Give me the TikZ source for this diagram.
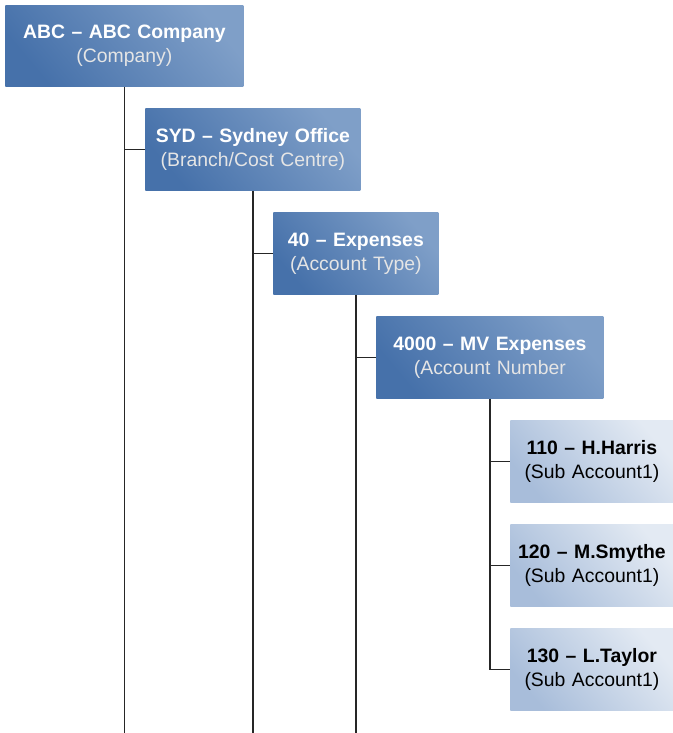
\documentclass[tikz,border=0pt]{standalone}
\usepackage{fontspec}
\setsansfont{Liberation Sans}
\usepackage{xcolor}
\usepackage{tikz}
\usetikzlibrary{positioning}
\definecolor{darkblue}{HTML}{4671AA}
\definecolor{midblue}{HTML}{7F9FC8}
\definecolor{paleblue}{HTML}{A8BDDA}
\definecolor{iceblue}{HTML}{E3EAF3}
\tikzstyle{tree} = [line width=0.75pt, black!85]

\begin{document}
\begin{tikzpicture}[
    x=0.5pt, y=-0.5pt,
    levelbox/.style={rectangle, anchor=north west, inner sep=0pt, text centered, font=\sffamily\fontsize{9.7}{12}\selectfont},
    darkbox/.style={levelbox, top color=midblue, middle color=darkblue!85!midblue, bottom color=darkblue, shading angle=-50, text=white},
    lightbox/.style={levelbox, top color=iceblue, middle color=paleblue!65!iceblue, bottom color=paleblue, shading angle=-50, text=black, text width=81.5pt, minimum height=41pt}
]
    \useasboundingbox (0,0) rectangle (673,733);
    \coordinate (bottom) at (0,733);

    % Levels of the account code
    \node[darkbox, text width=119pt, minimum height=40.5pt] (abc) at (5,5) {
        \textbf{ABC -- ABC Company}\\
        \textcolor{white!90!black}{(Company)}
    };
    \node[darkbox, text width=107.5pt, minimum height=41pt] (syd) at (145,108) {
        \textbf{SYD -- Sydney Office}\\
        \textcolor{white!90!black}{(Branch/Cost Centre)}
    };
    \node[darkbox, text width=82.5pt, minimum height=41pt] (exp) at (273,212) {
        \textbf{40 -- Expenses}\\
        \textcolor{white!90!black}{(Account Type)}
    };
    \node[darkbox, text width=113.5pt, minimum height=41pt] (mv) at (376,316) {
        \textbf{4000 -- MV Expenses}\\
        \textcolor{white!90!black}{(Account Number}
    };

    % Sub accounts
    \node[lightbox] (harris) at (510,420) {\textbf{110 -- H.Harris}\\(Sub Account1)};
    \node[lightbox] (smythe) at (510,524) {\textbf{120 -- M.Smythe}\\(Sub Account1)};
    \node[lightbox] (taylor) at (510,628) {\textbf{130 -- L.Taylor}\\(Sub Account1)};

    % Tree lines
    \draw[tree] (abc.south) -- (abc.south |- bottom);
    \draw[tree] (abc.south |- syd.west) -- (syd.west);
    \draw[tree] (syd.south) -- (syd.south |- bottom);
    \draw[tree] (syd.south |- exp.west) -- (exp.west);
    \draw[tree] (exp.south) -- (exp.south |- bottom);
    \draw[tree] (exp.south |- mv.west) -- (mv.west);
    \draw[tree] (mv.south) |- (taylor.west);
    \draw[tree] (mv.south |- harris.west) -- (harris.west);
    \draw[tree] (mv.south |- smythe.west) -- (smythe.west);

\end{tikzpicture}
\end{document}
